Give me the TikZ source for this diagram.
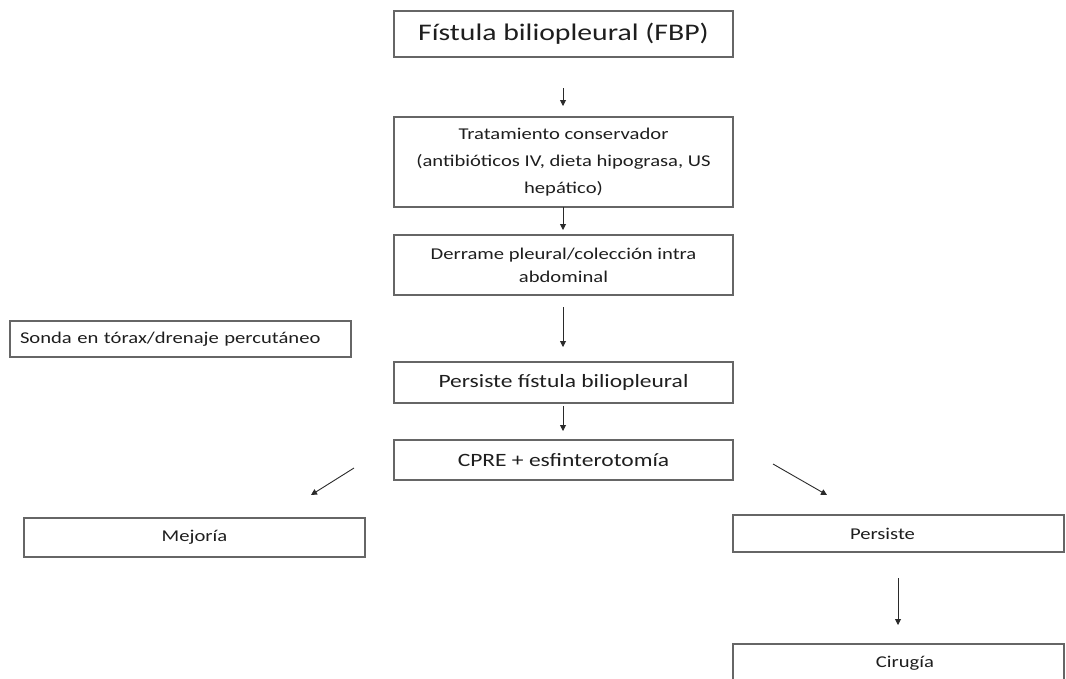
\documentclass[tikz,border=0pt]{standalone}
\usepackage{fontspec}
\setmainfont{Carlito}[FakeStretch=1.25]
\usetikzlibrary{arrows.meta}
\definecolor{boxline}{HTML}{666666}
\definecolor{txt}{HTML}{1E1E1E}
\definecolor{arr}{HTML}{2A2A2A}
\tikzset{
  box/.style={draw=boxline, line width=1.3pt, rectangle, inner sep=0pt, align=center, text=txt},
  body/.style={font=\fontsize{16.5}{23}\selectfont},
  mid/.style={font=\fontsize{18.8}{24}\selectfont},
  big/.style={font=\fontsize{23.8}{28}\selectfont},
  conn/.style={draw=arr, line width=0.9pt, -{Triangle[length=6pt,width=6pt]}}
}
\begin{document}
\begin{tikzpicture}[x=1pt,y=-1pt]
\useasboundingbox (0,0) rectangle (1066,678);
\clip (0,0) rectangle (1066,678);
\node[box,big,minimum width=339pt,minimum height=46pt] (fbp) at (563.5,34) {Fístula biliopleural (FBP)};
\node[box,body,minimum width=339pt,minimum height=90pt,font=\fontsize{16.5}{27}\selectfont] (trat) at (563.5,162) {Tratamiento conservador\\(antibióticos IV, dieta hipograsa, US\\hepático)};
\node[box,body,minimum width=339pt,minimum height=60pt] (derr) at (563.5,265) {Derrame pleural/colección intra\\abdominal};
\node[box,body,minimum width=341pt,minimum height=36pt,text width=321pt,align=left,inner xsep=10pt] (sonda) at (180.5,339) {Sonda en tórax/drenaje percutáneo};
\node[box,mid,minimum width=339pt,minimum height=41pt] (pfb) at (563.5,382.5) {Persiste fístula biliopleural};
\node[box,mid,minimum width=339pt,minimum height=40pt] (cpre) at (563.5,460) {CPRE + esfinterotomía};
\node[box,body,minimum width=341pt,minimum height=39pt] (mej) at (194.5,537.5) {Mejoría};
\node[box,body,minimum width=331pt,minimum height=37pt] (pers) at (898.5,533.5) {\hspace*{-32pt}Persiste};
\node[box,body,minimum width=331pt,minimum height=38pt] (cir) at (898.5,663) {\hspace*{13pt}Cirugía};
\coordinate (a1s) at (563,88);  \coordinate (a1e) at (563,106);
\coordinate (a2s) at (563,207); \coordinate (a2e) at (563,230);
\coordinate (a3s) at (563,307); \coordinate (a3e) at (563,347);
\coordinate (a4s) at (563,406); \coordinate (a4e) at (563,431);
\coordinate (a5s) at (354,468); \coordinate (a5e) at (311,495);
\coordinate (a6s) at (773,464); \coordinate (a6e) at (827,495);
\coordinate (a7s) at (898,578); \coordinate (a7e) at (898,625);
\draw[conn] (a1s) -- (a1e);
\draw[conn] (a2s) -- (a2e);
\draw[conn] (a3s) -- (a3e);
\draw[conn] (a4s) -- (a4e);
\draw[conn] (a5s) -- (a5e);
\draw[conn] (a6s) -- (a6e);
\draw[conn] (a7s) -- (a7e);
\end{tikzpicture}
\end{document}
